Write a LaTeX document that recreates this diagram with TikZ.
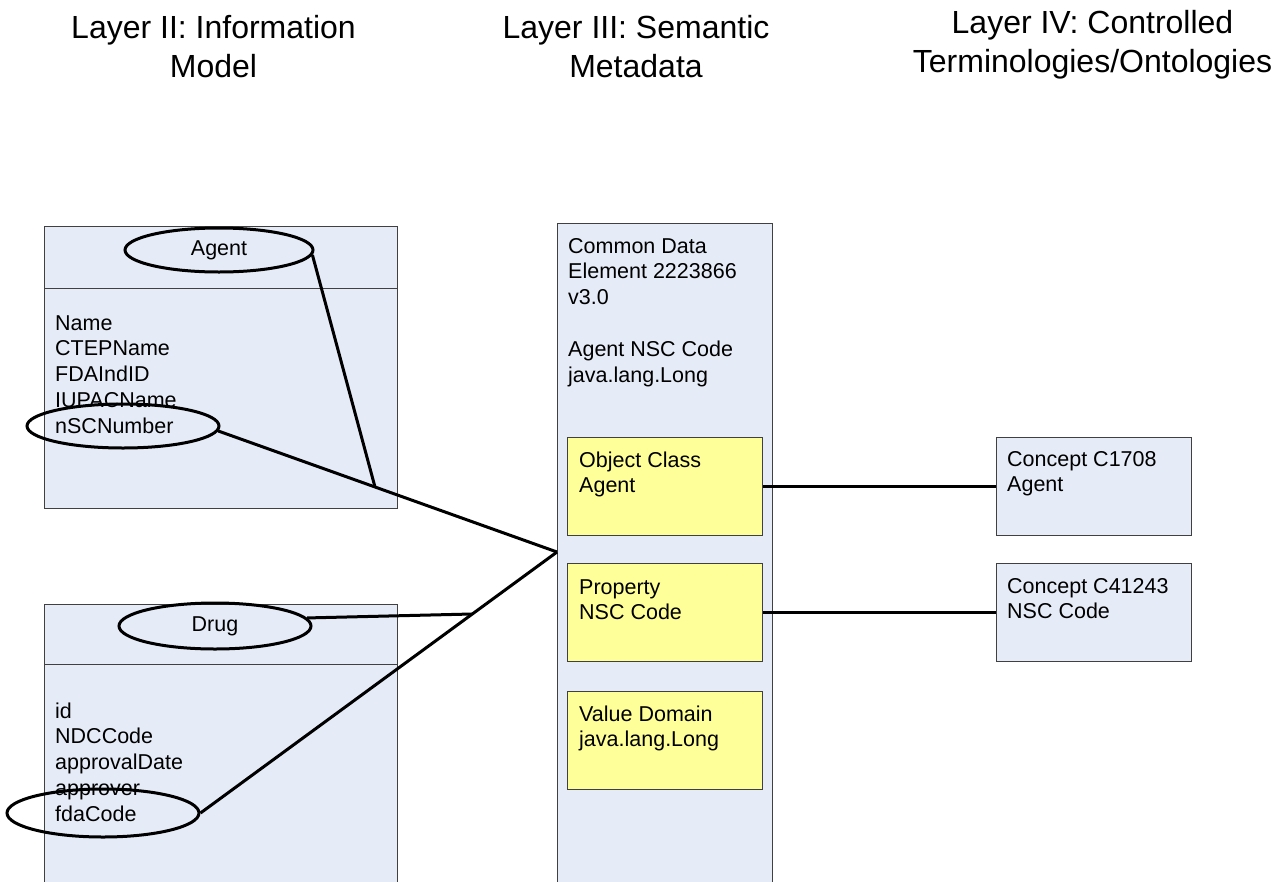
\documentclass[tikz,border=0pt]{standalone}
\usepackage{fontspec}
\setmainfont{Liberation Sans}
\usetikzlibrary{shapes.geometric}
\definecolor{boxblue}{RGB}{230,236,247}
\definecolor{boxyellow}{RGB}{255,255,153}
\definecolor{edgegray}{RGB}{64,64,64}
\newcommand\mybody{\fontsize{21.5}{25.8}\selectfont}
\newcommand\mytitle{\fontsize{32}{39}\selectfont}
\begin{document}
\begin{tikzpicture}[x=1pt,y=-1pt,
  panel/.style={draw=edgegray, line width=1pt, fill=boxblue, anchor=north west, inner sep=0pt},
  note/.style={draw=edgegray, line width=1pt, fill=boxyellow, anchor=north west, inner sep=0pt},
  hl/.style={draw=black, ellipse, line width=3pt, inner sep=0pt, font=\mybody},
  link/.style={draw=black, line width=3pt},
  txt/.style={anchor=base west, inner sep=0pt, font=\mybody},
  ttl/.style={anchor=base, inner sep=0pt, font=\mytitle}]
\useasboundingbox (0,0) rectangle (1279,881);

% titles
\node[ttl] (t2) at (213.5,38.5) {\begin{tabular}[t]{@{}c@{}}Layer II: Information\\Model\end{tabular}};
\node[ttl] (t3) at (636,38.5) {\begin{tabular}[t]{@{}c@{}}Layer III: Semantic\\Metadata\end{tabular}};
\node[ttl] (t4) at (1092.5,33) {\begin{tabular}[t]{@{}c@{}}Layer IV: Controlled\\Terminologies/Ontologies\end{tabular}};

% Layer II boxes
\node[panel, minimum width=353pt, minimum height=282pt] (agentBox) at (44,226) {};
\draw[edgegray, line width=1pt] (44,288) -- (397,288);
\node[panel, minimum width=353pt, minimum height=290pt] (drugBox) at (44,604) {};
\draw[edgegray, line width=1pt] (44,664) -- (397,664);

\node[txt] (agentAttr) at (55,330) {\begin{tabular}[t]{@{}l@{}}Name\\CTEPName\\FDAIndID\\IUPACName\\nSCNumber\end{tabular}};
\node[txt] (drugAttr) at (55,718) {\begin{tabular}[t]{@{}l@{}}id\\NDCCode\\approvalDate\\approver\\fdaCode\end{tabular}};

% Layer III
\node[panel, minimum width=215pt, minimum height=670pt] (mid) at (557,223) {};
\node[txt] (midText) at (568,253) {\begin{tabular}[t]{@{}l@{}}Common Data\\Element 2223866\\v3.0\\ \\Agent NSC Code\\java.lang.Long\end{tabular}};
\node[note, minimum width=195pt, minimum height=98pt] (oc) at (567,437) {};
\node[txt] (ocText) at (579,467) {\begin{tabular}[t]{@{}l@{}}Object Class\\Agent\end{tabular}};
\node[note, minimum width=195pt, minimum height=98pt] (prop) at (567,563) {};
\node[txt] (propText) at (579,594) {\begin{tabular}[t]{@{}l@{}}Property\\NSC Code\end{tabular}};
\node[note, minimum width=195pt, minimum height=98pt] (vd) at (567,691) {};
\node[txt] (vdText) at (579,721) {\begin{tabular}[t]{@{}l@{}}Value Domain\\java.lang.Long\end{tabular}};

% Layer IV
\node[panel, minimum width=195pt, minimum height=98pt] (c1) at (996,437) {};
\node[txt] (c1Text) at (1007,466) {\begin{tabular}[t]{@{}l@{}}Concept C1708\\Agent\end{tabular}};
\node[panel, minimum width=195pt, minimum height=98pt] (c2) at (996,563) {};
\node[txt] (c2Text) at (1007,593) {\begin{tabular}[t]{@{}l@{}}Concept C41243\\NSC Code\end{tabular}};

% highlight ellipses
\node[hl, minimum width=188pt, minimum height=44pt] (agentE) at (219,250) {Agent};
\node[hl, minimum width=192pt, minimum height=44pt] (nscE) at (123,426) {};
\node[hl, minimum width=192pt, minimum height=46pt] (drugE) at (215,626) {Drug};
\node[hl, minimum width=192pt, minimum height=48pt] (fdaE) at (103,813) {};

% connectors
\coordinate (j1) at (375,487);
\coordinate (J) at (557,552);
\coordinate (j2) at (472,614);
\draw[link] (agentE.-3) -- (j1);
\draw[link] (nscE.-3) -- (J);
\draw[link] (drugE.5) -- (j2);
\draw[link] (fdaE.east) -- (J);
\draw[link] (oc.east) -- (c1.west);
\draw[link] (prop.east) -- (c2.west);
\end{tikzpicture}
\end{document}
